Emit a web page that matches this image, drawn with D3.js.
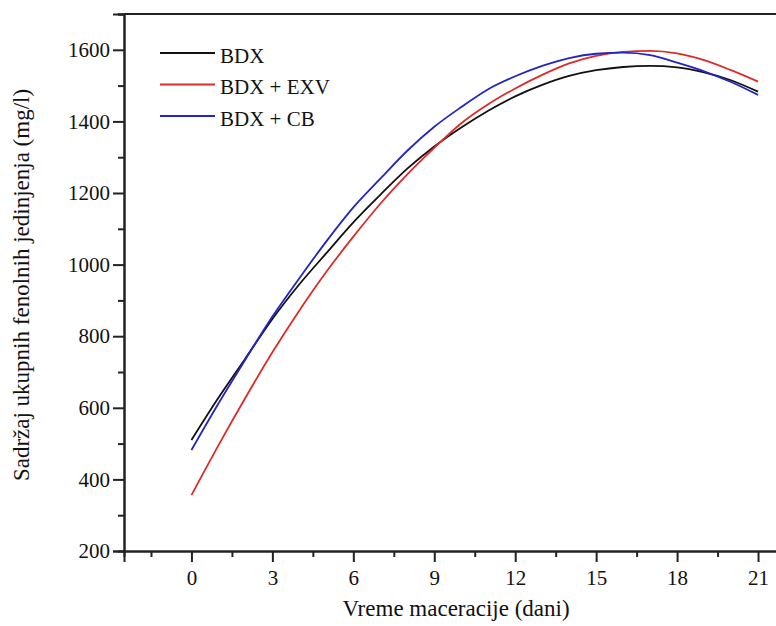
<!DOCTYPE html>
<html>
<head>
<meta charset="utf-8">
<script src="https://cdn.jsdelivr.net/npm/d3@7/dist/d3.min.js"></script>
<style>
  html, body { margin: 0; padding: 0; background: #fff; }
  svg { display: block; }
</style>
</head>
<body>
<svg id="chart" width="776" height="626"></svg>
<script>
// ---- data ----
const days = [0,1,2,3,4,5,6,7,8,9,10,11,12,13,14,15,16,17,18,19,20,21];
const seriesNames = ["BDX", "BDX + EXV", "BDX + CB"];
const bdx   = [510, 628, 738, 848, 945, 1032, 1118, 1195, 1268, 1330, 1383, 1430, 1470, 1502, 1527, 1543, 1552, 1555, 1551, 1537, 1515, 1483];
const bdxExv= [356, 495, 628, 755, 872, 980, 1078, 1170, 1252, 1326, 1395, 1448, 1492, 1530, 1562, 1583, 1594, 1597, 1590, 1571, 1543, 1511];
const bdxCb = [482, 612, 735, 855, 962, 1065, 1160, 1240, 1318, 1385, 1440, 1490, 1526, 1555, 1577, 1589, 1592, 1585, 1564, 1540, 1510, 1474];
const xTicks = [0,3,6,9,12,15,18,21];
const xMinorTicks = [-1.5,1.5,4.5,7.5,10.5,13.5,16.5,19.5,22.5];
const yTicks = [200,400,600,800,1000,1200,1400,1600];
const yMinorTicks = [300,500,700,900,1100,1300,1500,1700];
const colors = ["#111111", "#de2a2a", "#2424c4"];
const xTitle = "Vreme maceracije (dani)";
const yTitle = "Sadržaj ukupnih fenolnih jedinjenja (mg/l)";

const series = [bdx, bdxExv, bdxCb];
const FONT = "Liberation Serif";

// ---- layout ----
const svg = d3.select("#chart");
const mLeft = 124, mTop = 14, mBottom = 551;
const x = d3.scaleLinear().domain([-2.5, 23.5]).range([mLeft, mLeft + 26 * 26.98]);
const y = d3.scaleLinear().domain([200, 1700]).range([mBottom, mTop]);

// top frame line
svg.append("line")
  .attr("x1", mLeft).attr("x2", 776).attr("y1", mTop).attr("y2", mTop)
  .attr("stroke", "#222").attr("stroke-width", 2);

// x axis
const gx = svg.append("g").attr("transform", `translate(0,${mBottom})`);
gx.call(d3.axisBottom(x).tickValues(xMinorTicks).tickSize(6).tickFormat(""));
gx.append("g").call(d3.axisBottom(x).tickValues(xTicks).tickSize(11).tickPadding(8).tickFormat(d3.format("d")));
gx.selectAll("path.domain").attr("stroke", "#222").attr("stroke-width", 2);
gx.selectAll(".tick line").attr("stroke", "#222").attr("stroke-width", 2);
gx.selectAll(".tick text").attr("font-size", 21).attr("font-family", FONT).attr("fill", "#111");

// y axis
const gy = svg.append("g").attr("transform", `translate(${mLeft},0)`);
gy.call(d3.axisLeft(y).tickValues(yMinorTicks).tickSize(6).tickFormat(""));
gy.append("g").call(d3.axisLeft(y).tickValues(yTicks).tickSize(11).tickPadding(3).tickFormat(d3.format("d")));
gy.selectAll("path.domain").attr("stroke", "#222").attr("stroke-width", 2);
gy.selectAll(".tick line").attr("stroke", "#222").attr("stroke-width", 2);
gy.selectAll(".tick text").attr("font-size", 21).attr("font-family", FONT).attr("fill", "#111");

// lines
const line = d3.line()
  .x((d, i) => x(days[i]))
  .y(d => y(d))
  .curve(d3.curveMonotoneX);

series.forEach((s, k) => {
  svg.append("path")
    .datum(s)
    .attr("fill", "none")
    .attr("stroke", colors[k])
    .attr("stroke-width", 1.8)
    .attr("d", line);
});

// legend
const legend = svg.append("g");
seriesNames.forEach((name, k) => {
  const ly = 53 + k * 31.5;
  legend.append("line")
    .attr("x1", 160).attr("x2", 215).attr("y1", ly).attr("y2", ly)
    .attr("stroke", colors[k]).attr("stroke-width", 1.8);
  legend.append("text")
    .attr("x", 220).attr("y", ly + 9.5)
    .attr("font-family", FONT)
    .attr("font-size", 21)
    .attr("fill", "#111")
    .text(name);
});

// axis titles
svg.append("text")
  .attr("x", 456).attr("y", 616)
  .attr("text-anchor", "middle")
  .attr("font-family", FONT)
  .attr("font-size", 23)
  .attr("fill", "#111")
  .text(xTitle);

svg.append("text")
  .attr("transform", `translate(29,285) rotate(-90)`)
  .attr("text-anchor", "middle")
  .attr("font-family", FONT)
  .attr("font-size", 23)
  .attr("fill", "#111")
  .text(yTitle);
</script>
</body>
</html>
